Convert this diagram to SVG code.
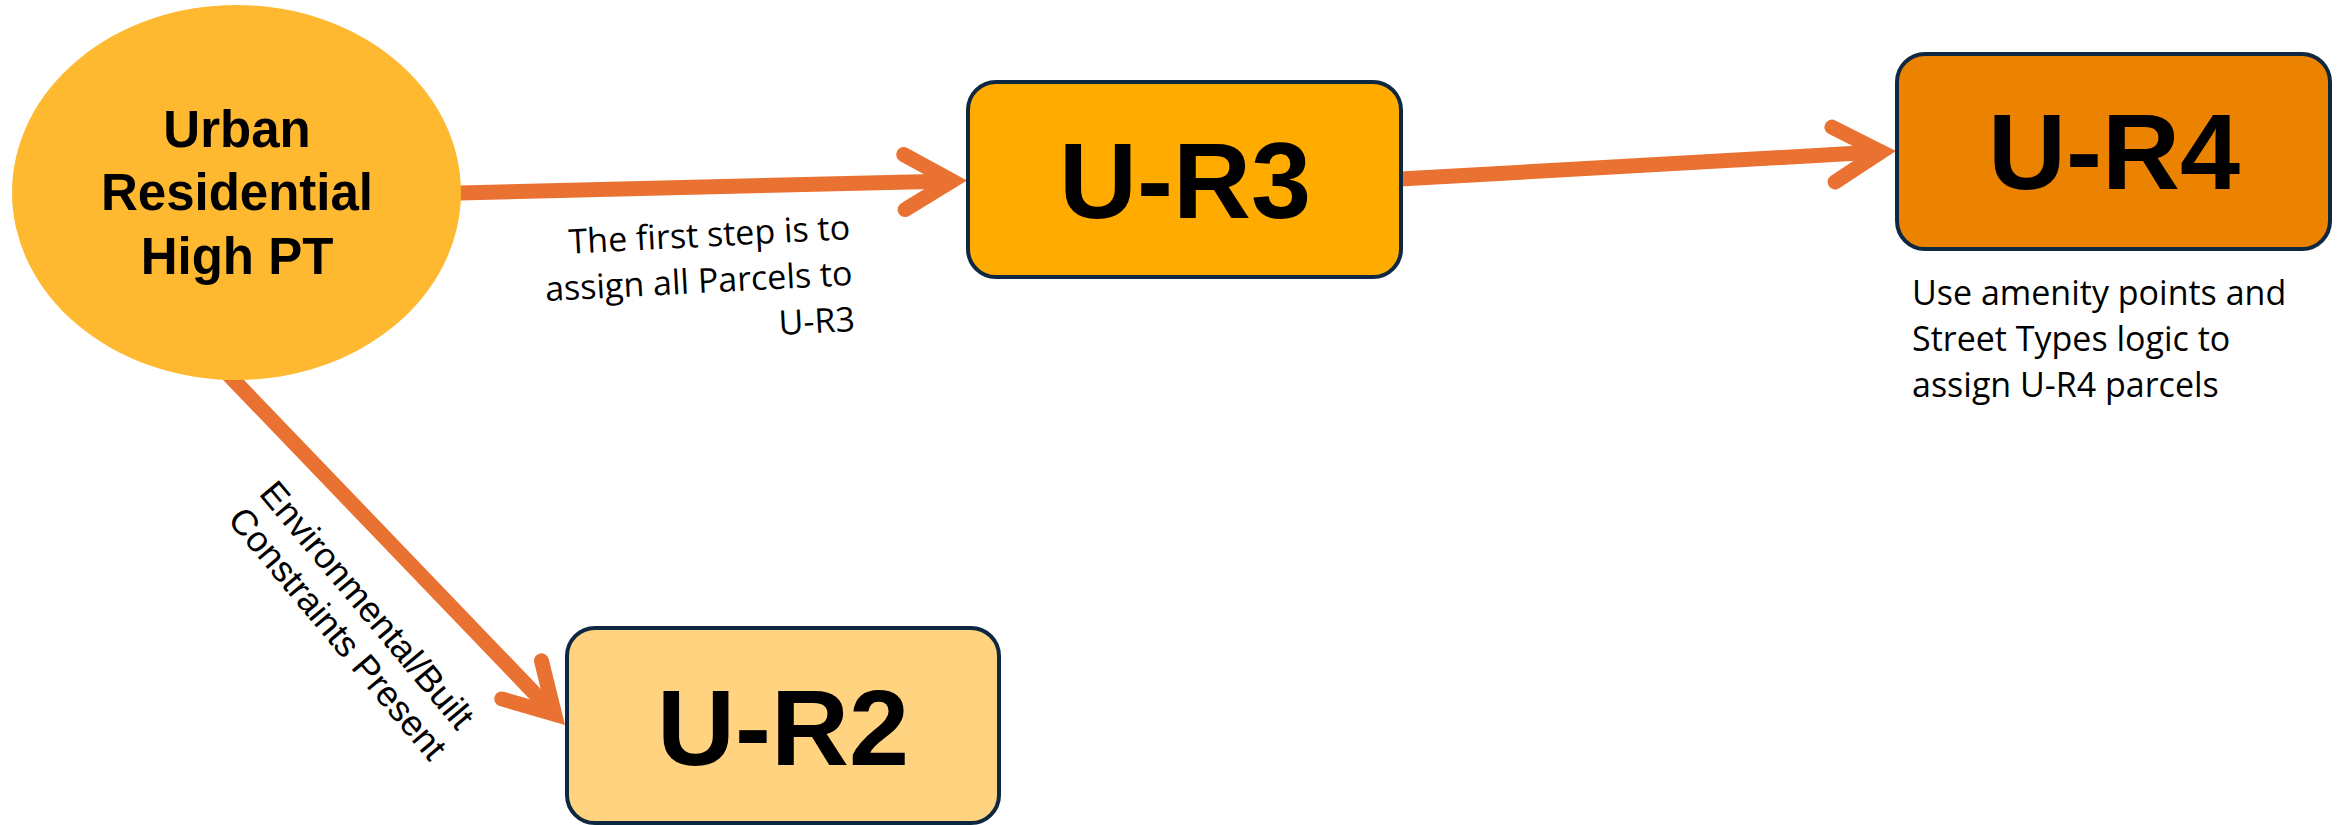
<svg xmlns="http://www.w3.org/2000/svg" width="2339" height="825" viewBox="0 0 2339 825">
  <style>
    .box { stroke: #0E2841; stroke-width: 4; }
    .boxlabel { font-family: "Liberation Sans", Arial, sans-serif; font-weight: bold; font-size: 108px; fill: #000; text-anchor: middle; }
    .title { font-family: "Liberation Sans", Arial, sans-serif; font-weight: bold; font-size: 51px; fill: #000; text-anchor: middle; }
    .note { font-family: "Open Sans", "Liberation Sans", sans-serif; font-size: 34px; fill: #000; }
    .edgelabel { font-family: "Liberation Sans", Arial, sans-serif; font-size: 36px; fill: #000; }
    .edge { fill: none; stroke: #E97132; stroke-width: 15; stroke-linecap: butt; marker-end: url(#chevron); }
  </style>
  <defs>
    <marker id="chevron" markerUnits="userSpaceOnUse" viewBox="-70 -50 100 100" markerWidth="100" markerHeight="100" refX="0" refY="0" orient="auto" overflow="visible">
      <path d="M -47.6 -27.5 L 0 0 L -47.6 27.5" fill="none" stroke="#E97132" stroke-width="15" stroke-linecap="round" stroke-linejoin="miter"/>
    </marker>
  </defs>

  <rect width="2339" height="825" fill="#FFFFFF"/>

  <!-- connectors -->
  <g id="connectors">
    <path class="edge" d="M440 193.4 L952 180.9"/>
    <path class="edge" d="M1400 179.1 L1881 151.85"/>
    <path class="edge" d="M224 370 L554.6 714.2"/>
    <text class="note" text-anchor="end" transform="rotate(-3 853 285)"><tspan x="853" y="239">The first step is to</tspan><tspan x="853" y="285">assign all Parcels to</tspan><tspan x="853" y="331">U-R3</tspan></text>
    <text class="edgelabel" transform="translate(258 494) rotate(50)"><tspan x="0" y="0">Environmental/Built</tspan><tspan x="0" y="41">Constraints Present</tspan></text>
  </g>

  <!-- start node -->
  <g id="urban-residential">
    <ellipse cx="236.5" cy="192.5" rx="224.5" ry="187.5" fill="#FEB930"/>
    <text class="title"><tspan x="237" y="147">Urban</tspan><tspan x="237" y="210">Residential</tspan><tspan x="237" y="274">High PT</tspan></text>
  </g>

  <g id="u-r3">
    <rect class="box" x="968" y="82" width="433" height="195" rx="28" fill="#FFAB00"/>
    <text class="boxlabel" x="1185" y="218">U-R3</text>
  </g>

  <g id="u-r4">
    <rect class="box" x="1897" y="54" width="433" height="195" rx="28" fill="#EC8300"/>
    <text class="boxlabel" x="2114" y="189">U-R4</text>
    <text class="note"><tspan x="1912" y="305">Use amenity points and</tspan><tspan x="1912" y="351">Street Types logic to</tspan><tspan x="1912" y="397">assign U-R4 parcels</tspan></text>
  </g>

  <g id="u-r2">
    <rect class="box" x="567" y="628" width="432" height="195" rx="28" fill="#FFD37F"/>
    <text class="boxlabel" x="783" y="765">U-R2</text>
  </g>
</svg>
